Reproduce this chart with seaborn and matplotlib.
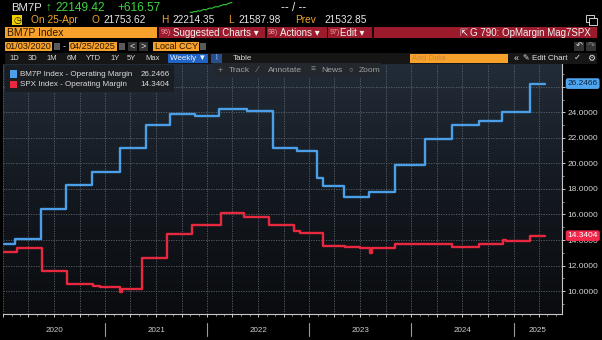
import matplotlib
matplotlib.use("Agg")
import numpy as np
import pandas as pd
import matplotlib.pyplot as plt
import matplotlib.dates as mdates
import matplotlib.ticker as mticker
import matplotlib.transforms as mtrans
from matplotlib.patches import Rectangle
from matplotlib.colors import LinearSegmentedColormap
import seaborn as sns

# ---------------- data ----------------
blue_dates = ["2020-01-03", "2020-02-14", "2020-05-15", "2020-08-14", "2020-11-13",
              "2021-02-24", "2021-05-27", "2021-08-20", "2021-11-18", "2022-02-12",
              "2022-05-23", "2022-08-24", "2022-11-18", "2023-01-30", "2023-02-19",
              "2023-05-04", "2023-08-02", "2023-11-02", "2024-02-19", "2024-05-24",
              "2024-08-29", "2024-11-21", "2025-02-27"]
blue_values = [13.66, 14.10, 16.46, 18.28, 19.32,
               21.19, 23.01, 23.87, 23.74, 24.26,
               24.08, 21.22, 20.96, 18.86, 18.20,
               17.34, 17.73, 19.87, 21.92, 23.01,
               23.32, 24.00, 26.2466]

red_dates = ["2020-01-03", "2020-02-19", "2020-05-19", "2020-08-18", "2020-11-17",
             "2020-12-13", "2021-02-23", "2021-03-02", "2021-05-14", "2021-08-11",
             "2021-11-09", "2022-02-20", "2022-05-12", "2022-08-09", "2022-11-08",
             "2022-11-28", "2023-02-18", "2023-05-08", "2023-07-01", "2023-08-05",
             "2023-08-12", "2023-11-05", "2024-02-29", "2024-05-25", "2024-08-29",
             "2024-11-23", "2024-12-04", "2025-02-28"]
red_values = [13.06, 13.40, 11.58, 10.52, 10.41,
              10.33, 9.94, 10.13, 12.59, 14.44,
              15.19, 16.10, 15.82, 15.19, 14.70,
              14.57, 13.52, 13.45, 13.40, 13.00,
              13.40, 13.66, 13.71, 13.45, 13.71,
              14.02, 13.89, 14.3404]

end_date = "2025-04-25"
blue_name = "BM7P Index - Operating Margin"
red_name = "SPX Index - Operating Margin"
blue_last = "26.2466"
red_last = "14.3404"
year_labels = ["2020", "2021", "2022", "2023", "2024", "2025"]
y_ticks = [10, 12, 14, 16, 18, 20, 22, 24, 26]
spark_values = [0.30, 0.28, 0.35, 0.33, 0.40, 0.38, 0.45, 0.50, 0.47, 0.55,
                0.60, 0.58, 0.66, 0.70, 0.68, 0.76, 0.80, 0.86, 0.83, 0.92, 0.97, 1.00]

BLUE = "#4a9fe8"
RED = "#e8283f"
ORANGE = "#f6a12b"
BARRED = "#9b1a2c"

sns.set_theme(style="dark")
plt.rcParams["font.family"] = ["Liberation Sans", "DejaVu Sans"]

W, H = 602, 340
fig = plt.figure(figsize=(W / 100, H / 100), dpi=100, facecolor="black")


def rect(x0, y0, x1, y1, color, z=1, ec="none", lw=0.6):
    fig.patches.append(Rectangle((x0 / W, 1 - y1 / H), (x1 - x0) / W, (y1 - y0) / H,
                                 transform=fig.transFigure, facecolor=color,
                                 edgecolor=ec, lw=lw, zorder=z))


def txt(x, y, s, color, size, ha="left", va="center", **kw):
    fig.text(x / W, 1 - y / H, s, color=color, fontsize=size, ha=ha, va=va, **kw)


# ---------------- header rows ----------------
txt(11, 8, "BM7P", "#e6e6e6", 8.2)
txt(48, 8, "↑", "#3fd43f", 8.4, ha="center")
txt(55, 8, "22149.42", "#3fd43f", 8.6)
txt(117, 8, "+616.57", "#3fd43f", 8.6)
txt(281, 8, "-- / --", "#e6e6e6", 8.6)

sax = fig.add_axes([188 / W, 1 - 13 / H, 46 / W, 11 / H])
sns.lineplot(x=np.arange(len(spark_values)), y=spark_values, ax=sax, color="#35c935", lw=0.8)
sax.axis("off")
sax.set_facecolor("none")

rect(12, 15, 22, 25, "#f2d000", z=2)
txt(17, 20, "◷", "#111111", 6.5, ha="center")
txt(31, 20, "On 25-Apr", "#f0a52a", 7.3)
txt(92, 20, "O", "#f0a52a", 7.3)
txt(103, 20, "21753.62", "#e6e6e6", 7.3)
txt(161, 20, "H", "#f0a52a", 7.3)
txt(172, 20, "22214.35", "#e6e6e6", 7.3)
txt(228, 20, "L", "#f0a52a", 7.3)
txt(238, 20, "21587.98", "#e6e6e6", 7.3)
txt(295, 20, "Prev", "#f0a52a", 7.3)
txt(324, 20, "21532.85", "#e6e6e6", 7.3)
# window icon (shape)
rect(586, 15, 594, 22, "none", z=2, ec="#d0d0d0", lw=0.7)
rect(589, 18, 597, 25, "black", z=3, ec="#d0d0d0", lw=0.7)

# red bar
rect(5, 27, 597, 38, BARRED, z=1)
rect(5, 27, 157, 38, ORANGE, z=2)
for sx in (157, 265, 327, 372):
    rect(sx, 27, sx + 1.5, 38, "#1a0508", z=2)
txt(7, 32.5, "BM7P Index", "#2a1600", 7.5)
txt(161, 32.8, "96)", "#e9a0a8", 5)
txt(173, 32.5, "Suggested Charts ▾", "#f2f2f2", 7)
txt(268, 32.8, "98)", "#e9a0a8", 5)
txt(280, 32.5, "Actions ▾", "#f2f2f2", 7)
txt(330, 32.8, "97)", "#e9a0a8", 5)
txt(340, 32.5, "Edit ▾", "#f2f2f2", 7)
txt(463, 32.5, "⇱", "#f2f2f2", 7, ha="center")
txt(591, 32.5, "G 790: OpMargin Mag7SPX", "#f2f2f2", 7, ha="right")

# date row
rect(5, 42, 52, 51, ORANGE, z=2)
txt(6, 46.5, "01/03/2020", "#2a1600", 6.6)
rect(54, 43, 60, 50, "#5a5a5a", z=2)
txt(64, 46.5, "-", "#cfcfcf", 6.5, ha="center")
rect(69, 42, 117, 51, ORANGE, z=2)
txt(70, 46.5, "04/25/2025", "#2a1600", 6.6)
rect(119, 43, 125, 50, "#5a5a5a", z=2)
rect(128, 42, 137, 51, "#333333", z=2)
rect(139, 42, 148, 51, "#333333", z=2)
txt(132.5, 46.5, "<", "#e0e0e0", 6.5, ha="center")
txt(143.5, 46.5, ">", "#e0e0e0", 6.5, ha="center")
rect(153, 42, 199, 51, ORANGE, z=2)
txt(155, 46.5, "Local CCY", "#2a1600", 6.5)
rect(200, 43, 206, 50, "#5a5a5a", z=2)
rect(574, 42, 584, 51, "#333333", z=2)
rect(586, 42, 596, 51, "#333333", z=2)
txt(579, 46.5, "↶", "#e0e0e0", 6, ha="center")
txt(591, 46.5, "↷", "#888888", 6, ha="center")

# period row
rect(5, 53, 597, 64, "#161616", z=1)
for lx, lab in zip([14, 33, 52, 72, 93, 115, 131, 153],
                   ["1D", "3D", "1M", "6M", "YTD", "1Y", "5Y", "Max"]):
    txt(lx, 58.5, lab, "#d8d8d8", 5.5, ha="center")
rect(168, 54, 208, 63, "#1f63c6", z=2)
txt(188, 58.5, "Weekly ▼", "#f2f2f2", 5.8, ha="center")
rect(211, 54, 222, 63, "#274f8c", z=2)
txt(216.5, 58.5, "⌇", "#9cc0ff", 5.5, ha="center")
txt(242, 58.5, "Table", "#d8d8d8", 5.8, ha="center")
rect(410, 54, 508, 63, ORANGE, z=2)
txt(412, 58.5, "Add Data", "#c98a35", 5.8)
txt(516, 58.5, "«", "#e0e0e0", 6.5, ha="center")
txt(523, 58.5, "✎ Edit Chart", "#e0e0e0", 5.8)
txt(577, 58.5, "✓", "#e0e0e0", 6, ha="center")
txt(591, 58.5, "⚙", "#e0e0e0", 6.5, ha="center")

# ---------------- main plot ----------------
ax = fig.add_axes([3 / W, 1 - 314 / H, (561.7 - 3) / W, (314 - 64) / H])
grad = np.linspace(0, 1, 256).reshape(-1, 1)
cmap = LinearSegmentedColormap.from_list("bg", ["#0a0c0f", "#141920", "#222c38"])
ax.imshow(grad, extent=[0, 1, 0, 1], transform=ax.transAxes, cmap=cmap,
          aspect="auto", origin="lower", zorder=0)

df_blue = pd.DataFrame({"date": pd.to_datetime(blue_dates + [end_date]),
                        "value": blue_values + [blue_values[-1]]})
df_red = pd.DataFrame({"date": pd.to_datetime(red_dates + [end_date]),
                       "value": red_values + [red_values[-1]]})
sns.lineplot(data=df_blue, x="date", y="value", ax=ax, color=BLUE, lw=1.7,
             drawstyle="steps-post", zorder=5)
sns.lineplot(data=df_red, x="date", y="value", ax=ax, color=RED, lw=1.7,
             drawstyle="steps-post", zorder=5)

ax.set_xlim(pd.Timestamp("2020-01-01"), pd.Timestamp("2025-06-22"))
ax.set_ylim(8.21, 27.78)
ax.set_xlabel("")
ax.set_ylabel("")

for s in ("top", "left"):
    ax.spines[s].set_visible(False)
for s in ("right", "bottom"):
    ax.spines[s].set_visible(True)
    ax.spines[s].set_color("#c8c8c8")
    ax.spines[s].set_linewidth(0.8)

ax.yaxis.tick_right()
ax.set_yticks(y_ticks)
ax.yaxis.set_major_formatter(mticker.FuncFormatter(lambda v, p: "" if v > 25 else f"{v:.4f}"))
ax.yaxis.set_minor_locator(mticker.MultipleLocator(1))
ax.tick_params(axis="y", which="major", right=True, left=False, length=2.5, width=0.7,
               color="#c8c8c8", labelcolor="#d4d4d4", labelsize=6, pad=1.5, direction="out")
ax.tick_params(axis="y", which="minor", right=True, left=False, length=1.5, width=0.6,
               color="#a0a0a0", direction="out")

ax.xaxis.set_major_locator(mdates.MonthLocator(bymonth=[1, 4, 7, 10]))
ax.xaxis.set_minor_locator(mdates.MonthLocator())
ax.xaxis.set_major_formatter(mticker.NullFormatter())
ax.tick_params(axis="x", which="major", bottom=True, length=2, width=0.7,
               color="#c8c8c8", direction="out")
ax.tick_params(axis="x", which="minor", bottom=True, length=1.3, width=0.6,
               color="#a0a0a0", direction="out")

ax.grid(False)
ax.grid(True, axis="x", which="major", color="#5d646c", lw=0.6, linestyle=(0, (1.5, 1.5)), zorder=1)
ax.grid(True, axis="y", which="major", color="#5d646c", lw=0.6, linestyle=(0, (1.5, 1.5)), zorder=1)

# year separators and labels
blend = mtrans.blended_transform_factory(ax.transData, ax.transAxes)
xmin, xmax = ax.get_xlim()
starts = [mdates.date2num(pd.Timestamp(f"{y}-01-01")) for y in year_labels]
for i, y in enumerate(year_labels):
    s = starts[i]
    e = starts[i + 1] if i + 1 < len(starts) else xmax
    if i > 0:
        ax.plot([s, s], [-0.035, -0.088], transform=blend, color="#9a9a9a", lw=0.8,
                clip_on=False, zorder=6)
    ax.text((max(s, xmin) + e) / 2, -0.064, y, transform=blend, ha="center", va="center",
            color="#cfcfcf", fontsize=5.8)

# last-value tags
tblend = mtrans.blended_transform_factory(ax.transAxes, ax.transData)
ax.text(1.0105, blue_values[-1], blue_last, transform=tblend, ha="left", va="center",
        fontsize=6, color="#0c2242", zorder=10,
        bbox=dict(boxstyle="round,pad=0.22,rounding_size=0.25", fc="#4fa6f0", ec="none"))
ax.text(1.0105, red_values[-1], red_last, transform=tblend, ha="left", va="center",
        fontsize=6, color="#ffffff", zorder=10,
        bbox=dict(boxstyle="round,pad=0.22,rounding_size=0.25", fc="#f0284a", ec="none"))

# legend panel
rect(5, 65, 174, 92, "#1a1e23", z=3)
rect(10, 70.5, 17, 77.5, BLUE, z=4)
rect(10, 81, 17, 88, RED, z=4)
txt(20, 74, blue_name, "#dadada", 5.8, zorder=5)
txt(20, 84.5, red_name, "#dadada", 5.8, zorder=5)
txt(170, 74, blue_last, "#dadada", 5.8, ha="right", zorder=5)
txt(170, 84.5, red_last, "#dadada", 5.8, ha="right", zorder=5)

# track/annotate bar
rect(213, 63, 381, 77, "#23282e", z=3)
txt(220, 70, "+", "#8c8c8c", 6.5, ha="center", zorder=5)
txt(229, 70, "Track", "#a0a0a0", 6.1, zorder=5)
txt(258, 70, "⁄", "#8c8c8c", 6.5, ha="center", zorder=5)
txt(268, 70, "Annotate", "#a0a0a0", 6.1, zorder=5)
txt(313, 70, "≡", "#8c8c8c", 6, ha="center", zorder=5)
txt(321, 70, "News", "#a0a0a0", 6.1, zorder=5)
txt(351, 70, "○", "#8c8c8c", 5.5, ha="center", zorder=5)
txt(359, 70, "Zoom", "#a0a0a0", 6.1, zorder=5)

fig.savefig("out.png", dpi=100, facecolor="black")
